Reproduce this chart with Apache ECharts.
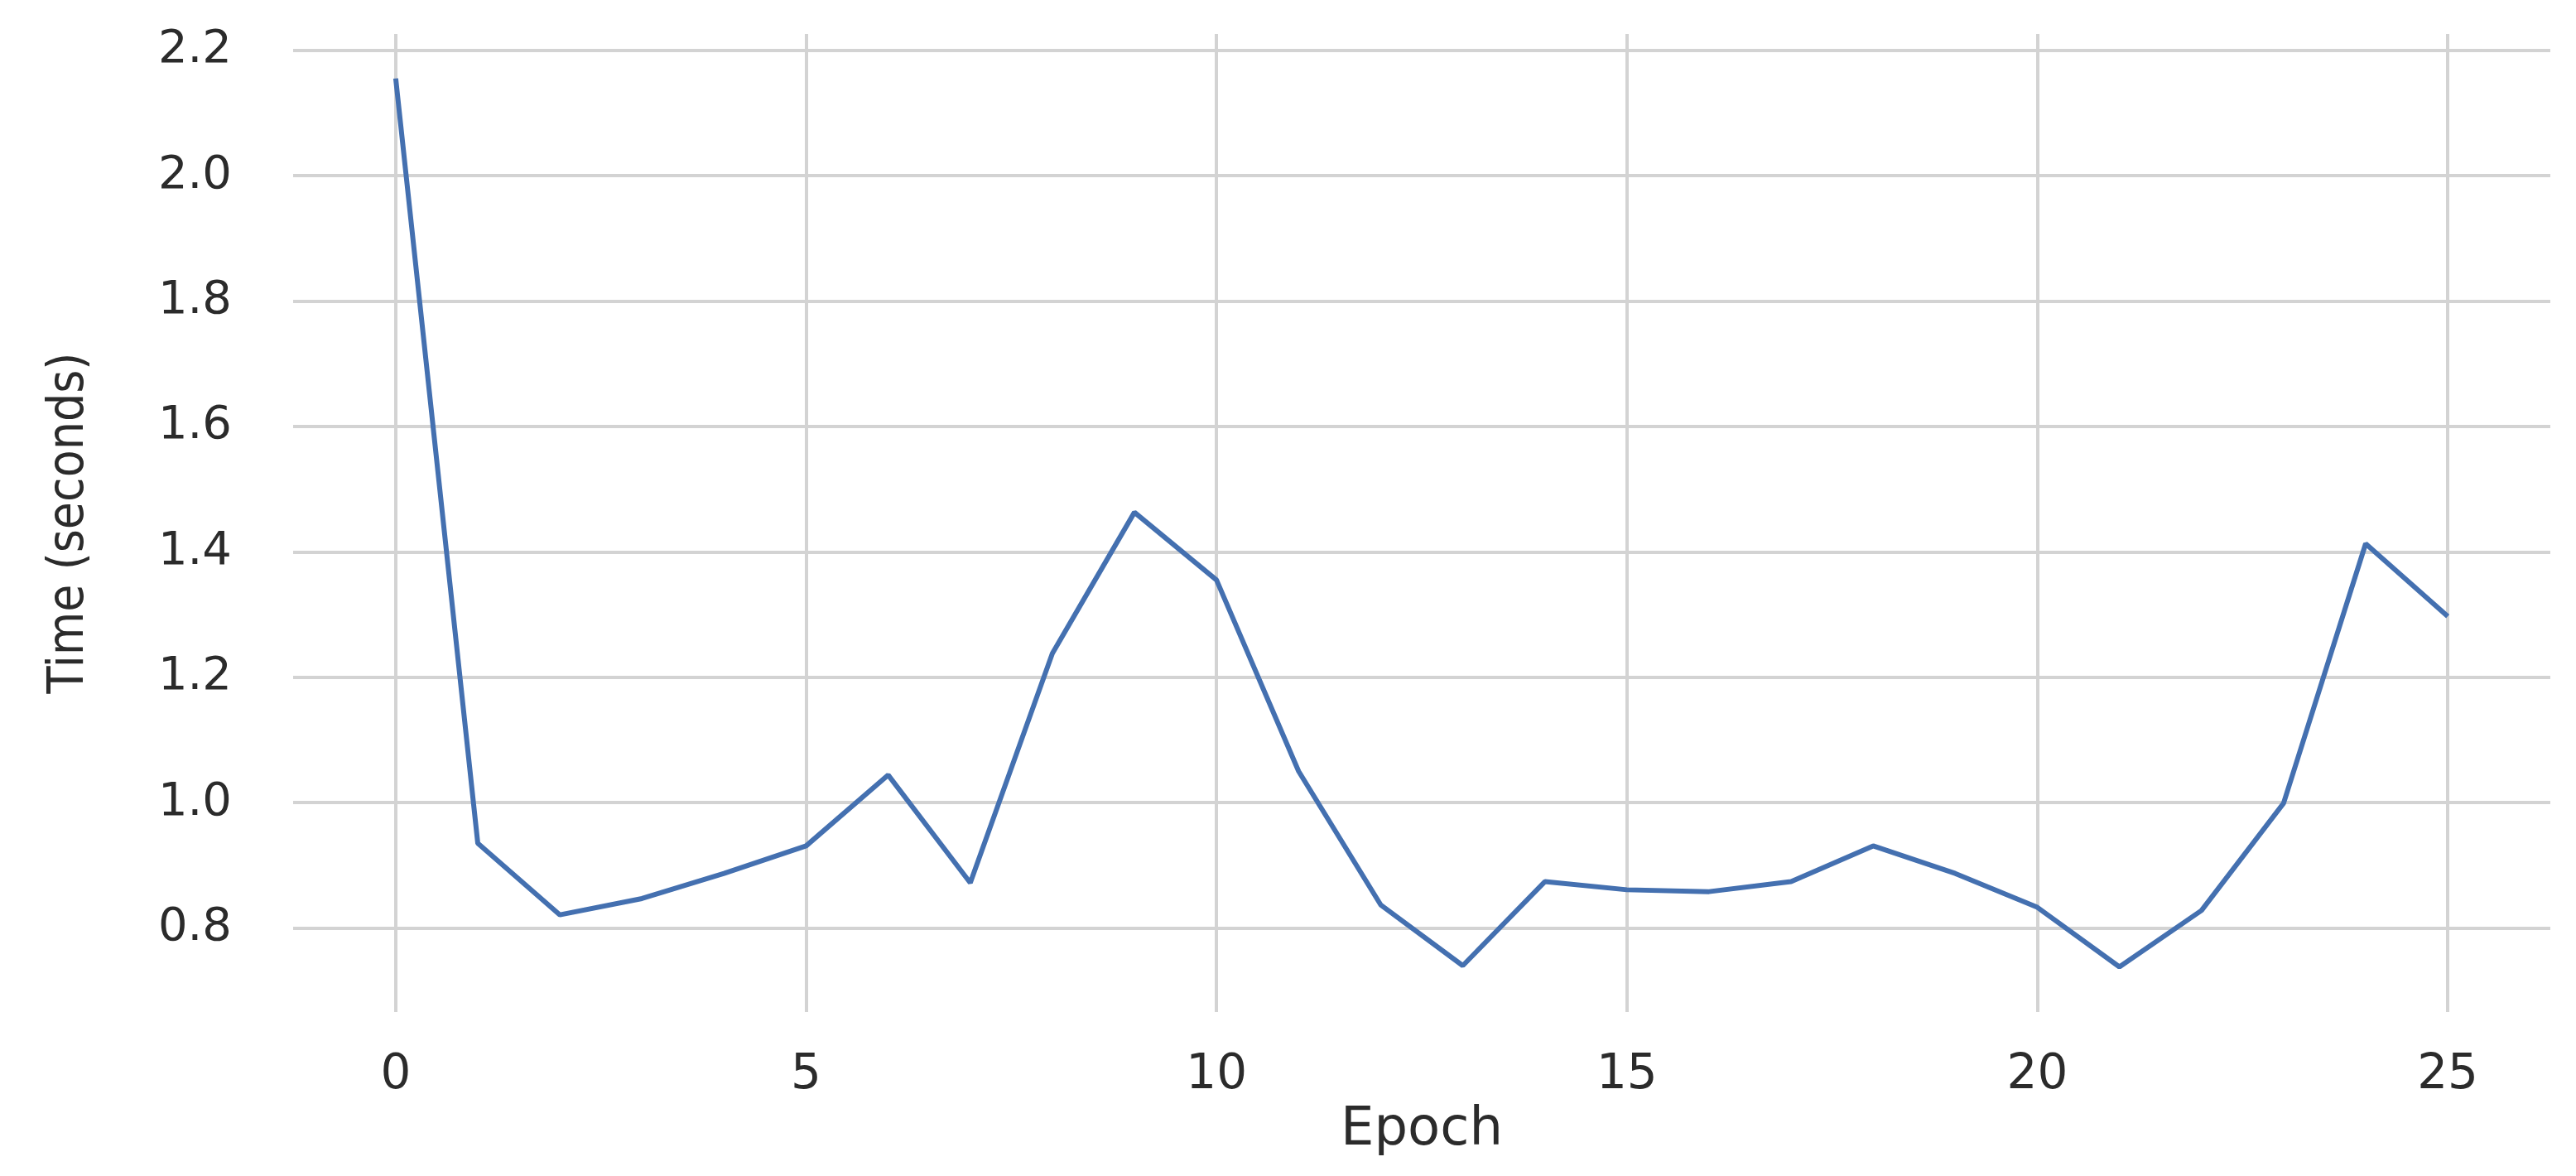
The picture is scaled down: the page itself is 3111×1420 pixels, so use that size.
<!DOCTYPE html>
<html>
<head>
<meta charset="utf-8">
<title>Time per epoch</title>
<script src="https://cdn.jsdelivr.net/npm/echarts@6/dist/echarts.min.js"></script>
<style>
  html, body { margin: 0; padding: 0; background: #fff; }
  #chart { width: 3111px; height: 1420px; }
</style>
</head>
<body>
<div id="chart"></div>
<script>
// epochs 0..25
const epochs = [0, 1, 2, 3, 4, 5, 6, 7, 8, 9, 10, 11, 12, 13, 14, 15, 16, 17, 18, 19, 20, 21, 22, 23, 24, 25];
// time per epoch in seconds
const times = [2.155, 0.935, 0.821, 0.847, 0.887, 0.931, 1.044, 0.872, 1.238, 1.463, 1.355, 1.050, 0.837, 0.740,
  0.874, 0.861, 0.858, 0.874, 0.931, 0.887, 0.833, 0.738, 0.828, 0.999, 1.413, 1.297];
const xTicks = [0, 5, 10, 15, 20, 25];
const yTicks = [0.8, 1.0, 1.2, 1.4, 1.6, 1.8, 2.0, 2.2];

const chart = echarts.init(document.getElementById('chart'));

const gridColor = '#d3d3d3';
const textColor = '#2b2b2b';

chart.setOption({
  backgroundColor: '#ffffff',
  animation: false,
  grid: { left: 354, right: 31, top: 41, bottom: 198 },
  xAxis: {
    type: 'value',
    min: -1.25,
    max: 26.25,
    name: 'Epoch',
    nameLocation: 'middle',
    nameGap: 104,
    nameTextStyle: { fontFamily: 'DejaVu Sans', fontSize: 64, color: textColor },
    axisLine: { show: false },
    axisTick: { show: false, customValues: xTicks },
    axisLabel: {
      customValues: xTicks,
      margin: 48,
      fontFamily: 'DejaVu Sans',
      fontSize: 58,
      color: textColor
    },
    splitLine: { show: true, lineStyle: { color: gridColor, width: 4 } }
  },
  yAxis: {
    type: 'value',
    min: 0.666,
    max: 2.226,
    name: 'Time (seconds)',
    nameLocation: 'middle',
    nameGap: 240,
    nameTextStyle: { fontFamily: 'DejaVu Sans Condensed', fontSize: 60, color: textColor },
    axisLine: { show: false },
    axisTick: { show: false, customValues: yTicks },
    axisLabel: {
      customValues: yTicks,
      margin: 74,
      fontFamily: 'DejaVu Sans',
      fontSize: 56,
      color: textColor,
      formatter: v => v.toFixed(1)
    },
    splitLine: { show: true, lineStyle: { color: gridColor, width: 4 } }
  },
  series: [{
    type: 'line',
    data: epochs.map((e, i) => [e, times[i]]),
    showSymbol: false,
    lineStyle: { color: '#4470b0', width: 6 },
    itemStyle: { color: '#4470b0' }
  }]
});
</script>
</body>
</html>
